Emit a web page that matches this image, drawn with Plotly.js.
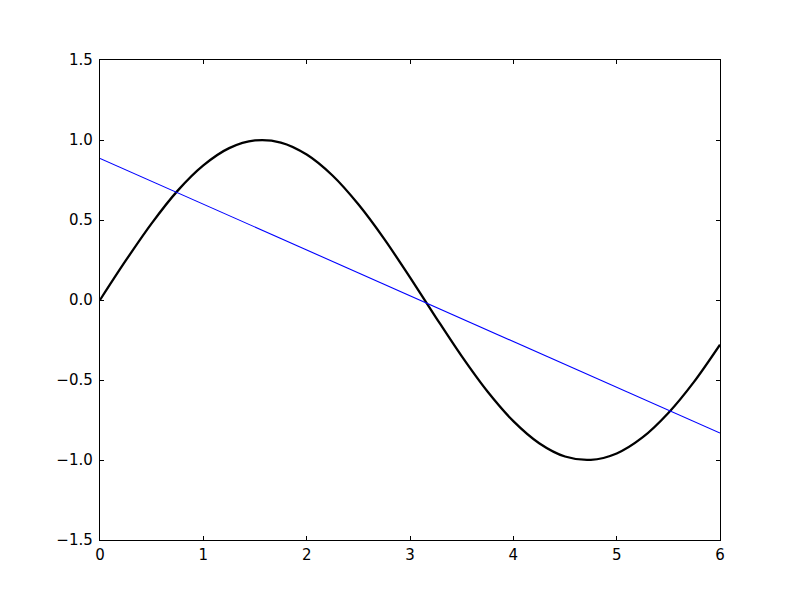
<!DOCTYPE html>
<html>
<head>
<meta charset="utf-8">
<script src="https://cdn.plot.ly/plotly-3.0.1.min.js"></script>
<style>html,body{margin:0;padding:0;background:#fff;}#chart{width:800px;height:600px;}</style>
</head>
<body>
<div id="chart"></div>
<script>
// Curve values
const curveX = [0, 0.25, 0.5, 0.75, 1, 1.25, 1.5, 1.75, 2, 2.25, 2.5, 2.75, 3, 3.25, 3.5, 3.75, 4, 4.25, 4.5, 4.75, 5, 5.25, 5.5, 5.75, 6];
const curveY = [0, 0.247, 0.479, 0.682, 0.841, 0.949, 0.997, 0.984, 0.909, 0.778, 0.598, 0.382, 0.141, -0.108, -0.351, -0.572, -0.757, -0.895, -0.978, -0.999, -0.959, -0.859, -0.706, -0.510, -0.279];
// Straight line endpoints
const lineX = [0, 6];
const lineY = [0.885, -0.832];
// Ticks
const xTicks = [0, 1, 2, 3, 4, 5, 6];
const xTickText = ["0", "1", "2", "3", "4", "5", "6"];
const yTicks = [-1.5, -1.0, -0.5, 0.0, 0.5, 1.0, 1.5];
const yTickText = ["\u22121.5", "\u22121.0", "\u22120.5", "0.0", "0.5", "1.0", "1.5"];

const traces = [
  {x: curveX, y: curveY, mode: 'lines', line: {color: '#000000', width: 2.3, shape: 'spline', smoothing: 0.9}, hoverinfo: 'skip'},
  {x: lineX, y: lineY, mode: 'lines', line: {color: '#0000ff', width: 1.1}, hoverinfo: 'skip'}
];
const axisCommon = {
  showgrid: false, zeroline: false, showline: true, linecolor: '#000', linewidth: 1.2,
  mirror: 'ticks', ticks: 'inside', ticklen: 4, tickwidth: 1, tickcolor: '#000',
  tickfont: {family: 'DejaVu Sans', size: 15, color: '#000'}
};
const layout = {
  width: 800, height: 600,
  margin: {l: 100, r: 80, t: 60, b: 60, pad: 0},
  paper_bgcolor: '#fff', plot_bgcolor: '#fff',
  showlegend: false,
  xaxis: Object.assign({}, axisCommon, {range: [0, 6], tickmode: 'array', tickvals: xTicks, ticktext: xTickText, ticklabelstandoff: 1}),
  yaxis: Object.assign({}, axisCommon, {range: [-1.5, 1.5], tickmode: 'array', tickvals: yTicks, ticktext: yTickText, ticklabelstandoff: 3})
};
Plotly.newPlot('chart', traces, layout, {displayModeBar: false, staticPlot: true});
</script>
</body>
</html>
